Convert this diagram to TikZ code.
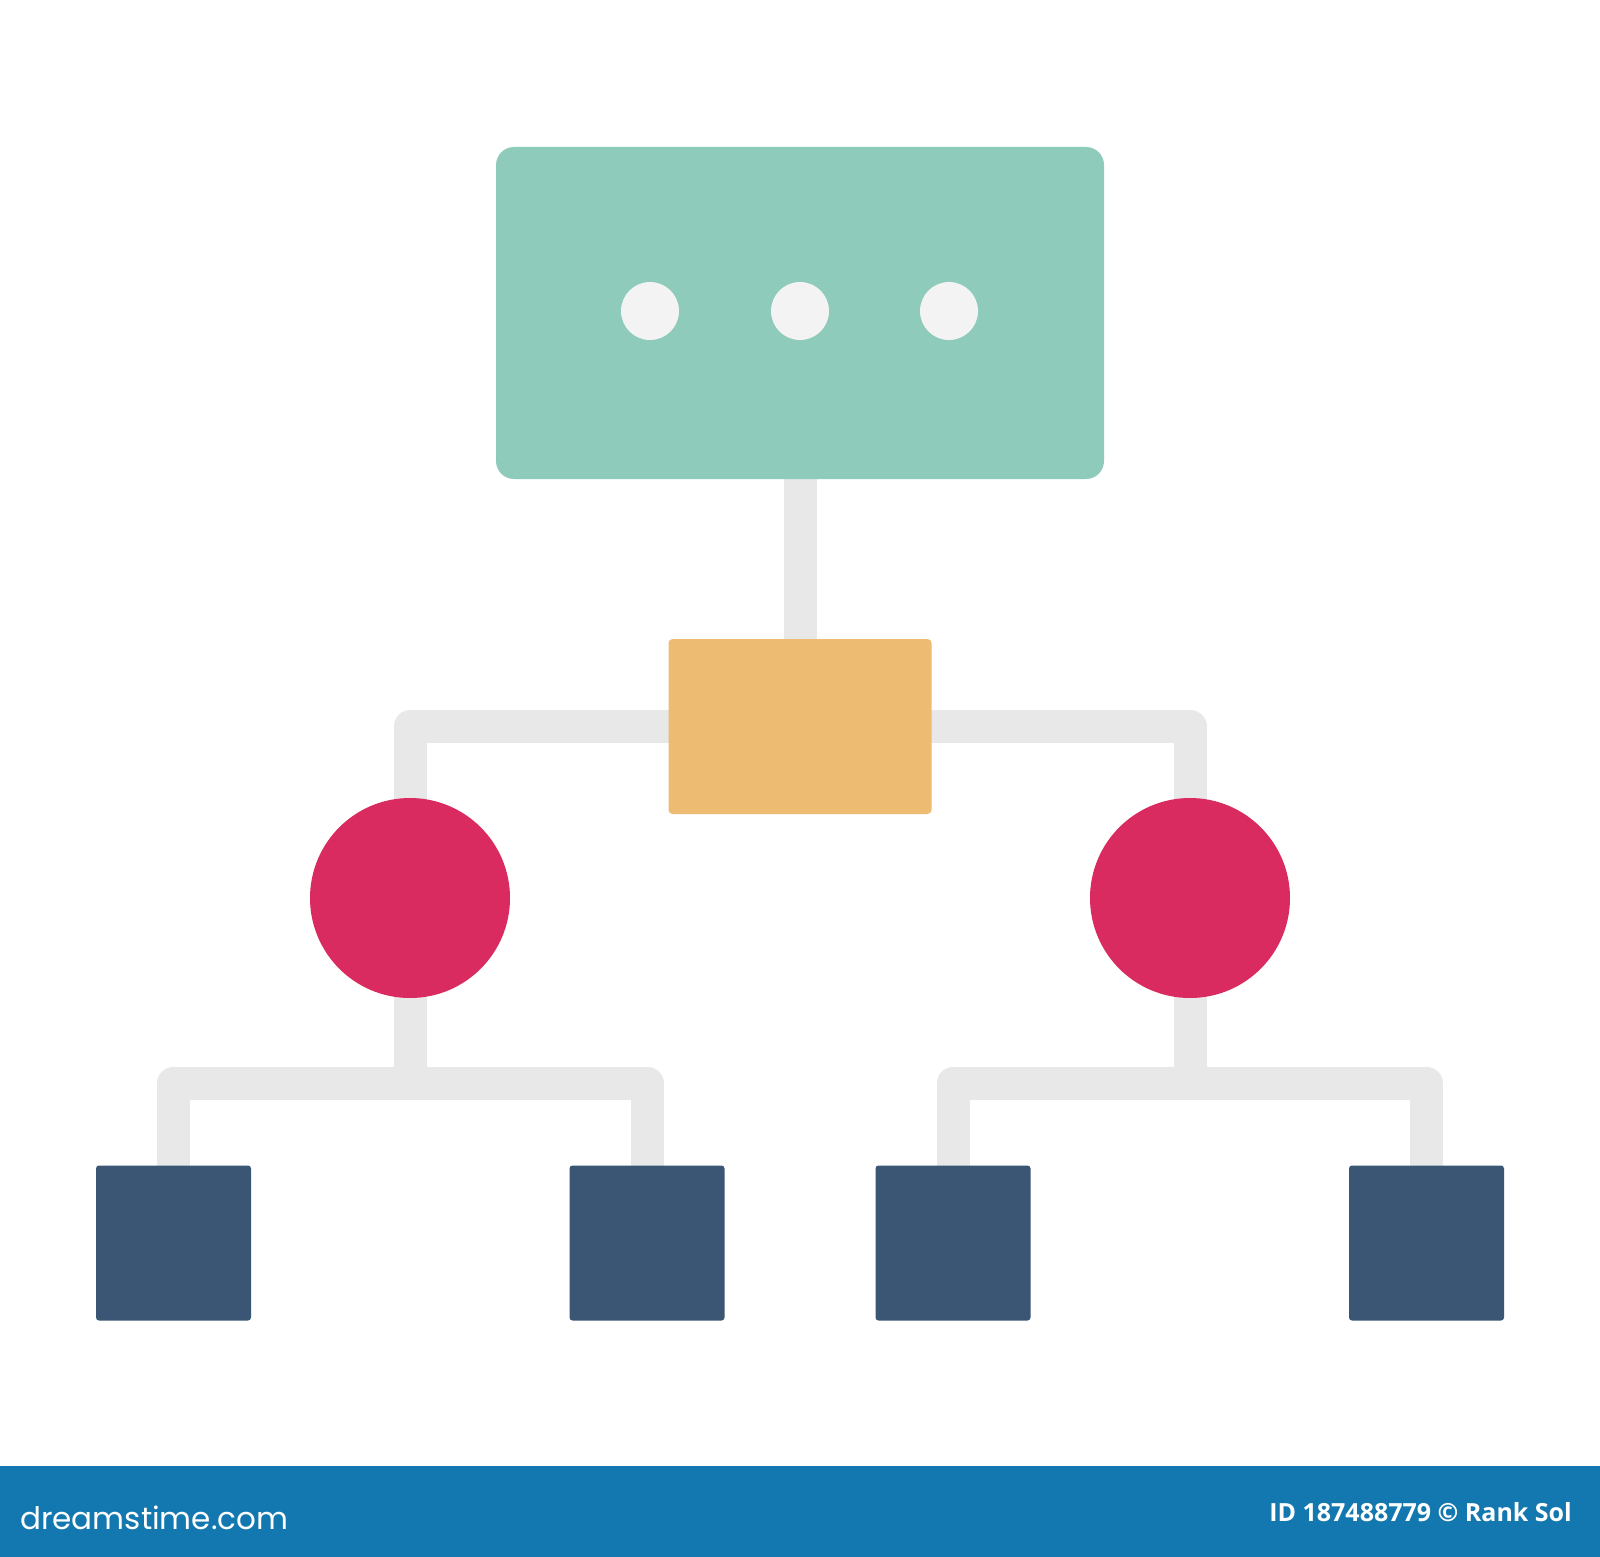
\documentclass[tikz,border=0pt]{standalone}
\usepackage{fontspec}
\setmainfont{Open Sans}
\newfontfamily\logofont{Poppins}
\usetikzlibrary{backgrounds}
\definecolor{boxgreen}{HTML}{8FCBBA}
\definecolor{dotwhite}{HTML}{F3F3F3}
\definecolor{boxorange}{HTML}{EEBB72}
\definecolor{nodered}{HTML}{D92B5F}
\definecolor{leafnavy}{HTML}{3A5674}
\definecolor{linkgray}{HTML}{E8E8E8}
\definecolor{barblue}{HTML}{1378AF}
\tikzset{
  topbox/.style={fill=boxgreen, rounded corners=18pt, minimum width=608pt, minimum height=332pt, inner sep=0pt},
  dotnode/.style={circle, fill=dotwhite, minimum size=58pt, inner sep=0pt},
  midbox/.style={fill=boxorange, rounded corners=4pt, minimum width=263pt, minimum height=175pt, inner sep=0pt},
  rednode/.style={circle, fill=nodered, minimum size=200pt, inner sep=0pt},
  leaf/.style={fill=leafnavy, rounded corners=3pt, minimum size=155pt, inner sep=0pt},
  link/.style={draw=linkgray, line width=33pt, line join=round},
}
\begin{document}
\begin{tikzpicture}[x=1pt,y=-1pt]
\useasboundingbox (0,0) rectangle (1600,1557);
% nodes
\node[topbox] (top) at (800,313) {};
\node[dotnode] (d1) at (650,311) {};
\node[dotnode] (d2) at (800,311) {};
\node[dotnode] (d3) at (949,311) {};
\node[midbox] (mid) at (800,726.5) {};
\node[rednode] (cl) at (410,898) {};
\node[rednode] (cr) at (1190,898) {};
\node[leaf] (s1) at (173.5,1243) {};
\node[leaf] (s2) at (647,1243) {};
\node[leaf] (s3) at (953,1243) {};
\node[leaf] (s4) at (1426.5,1243) {};
\coordinate (jl) at (410,1083);
\coordinate (jr) at (1190,1083);
% bottom bar
\fill[barblue] (0,1466) rectangle (1600,1557);
\node[anchor=west, text=white, inner sep=0pt, font=\logofont\fontsize{31}{33}\selectfont] (logo) at (20,1518) {dreamstime.com};
\node[anchor=east, text=white, inner sep=0pt, font=\bfseries\fontsize{25}{28}\selectfont] (credit) at (1572,1512) {ID 187488779 © Rank Sol};
\begin{pgfonlayer}{background}
\fill[white] (0,0) rectangle (1600,1466);
\draw[link] (top.center) -- (mid.center);
\draw[link] (cl.center) |- (mid.center) -| (cr.center);
\draw[link] (cl.center) -- (jl);
\draw[link] (s1.center) |- (jl) -| (s2.center);
\draw[link] (cr.center) -- (jr);
\draw[link] (s3.center) |- (jr) -| (s4.center);
\end{pgfonlayer}
\end{tikzpicture}
\end{document}
